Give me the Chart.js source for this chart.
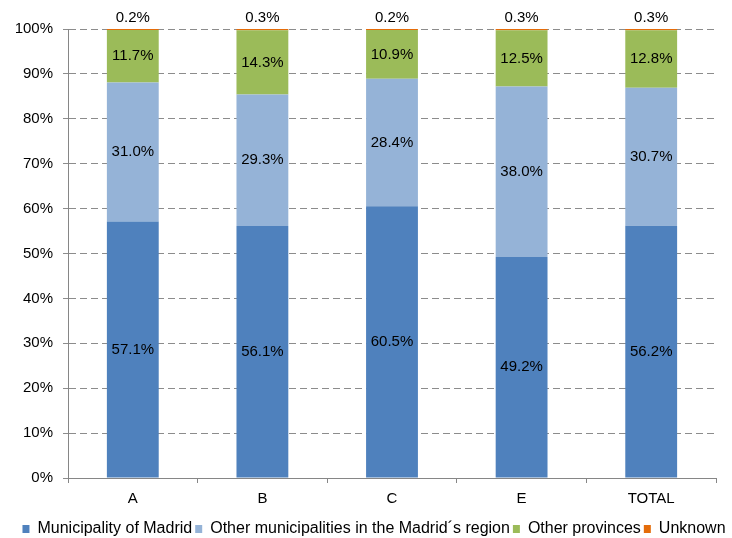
<!DOCTYPE html>
<html>
<head>
<meta charset="utf-8">
<script src="https://cdn.jsdelivr.net/npm/chart.js@4"></script>
<style>
  html, body { margin: 0; padding: 0; background: #fff; }
  #wrap { width: 732px; height: 538px; }
</style>
</head>
<body>
<div id="wrap"><canvas id="myChart" width="732" height="538"></canvas></div>
<script>
// origen de los visitantes por centro (%)
const centros = ['A', 'B', 'C', 'E', 'TOTAL'];
const madrid = [57.1, 56.1, 60.5, 49.2, 56.2];
const region = [31.0, 29.3, 28.4, 38.0, 30.7];
const provincias = [11.7, 14.3, 10.9, 12.5, 12.8];
const desconocido = [0.2, 0.3, 0.2, 0.3, 0.3];
const yTicks = [0, 10, 20, 30, 40, 50, 60, 70, 80, 90, 100];

const fuente = 'Liberation Sans, Arial, sans-serif';

// etiquetas de valor: dentro del segmento, la ultima serie encima de la barra
const etiquetas = {
  id: 'etiquetas',
  afterDatasetsDraw(chart) {
    const ctx = chart.ctx;
    ctx.save();
    ctx.font = '15px ' + fuente;
    ctx.fillStyle = '#000';
    ctx.textAlign = 'center';
    ctx.textBaseline = 'middle';
    chart.data.datasets.forEach((ds, i) => {
      const meta = chart.getDatasetMeta(i);
      meta.data.forEach((bar, j) => {
        const txt = ds.data[j].toFixed(1) + '%';
        if (i == 3) {
          ctx.fillText(txt, bar.x, bar.y - 11);
        } else {
          ctx.fillText(txt, bar.x, (bar.y + bar.base) / 2);
        }
      });
    });
    ctx.restore();
  }
};

new Chart(document.getElementById('myChart'), {
  type: 'bar',
  data: {
    labels: centros,
    datasets: [
      { label: 'Municipality of Madrid', data: madrid, backgroundColor: '#4F81BD' },
      { label: 'Other municipalities in the Madrid´s region', data: region, backgroundColor: '#95B3D7' },
      { label: 'Other provinces', data: provincias, backgroundColor: '#9BBB59' },
      { label: 'Unknown', data: desconocido, backgroundColor: '#E46C0A' }
    ]
  },
  options: {
    responsive: false,
    animation: false,
    layout: { padding: { top: 29, right: 0, left: 16, bottom: -9 } },
    datasets: { bar: { categoryPercentage: 1, barPercentage: 0.4, borderWidth: 0 } },
    plugins: {
      legend: {
        position: 'bottom',
        labels: {
          font: { family: fuente, size: 16, lineHeight: 0.8 },
          color: '#000',
          boxWidth: 7,
          boxHeight: 8,
          padding: 3
        }
      },
      tooltip: { enabled: false }
    },
    scales: {
      x: {
        stacked: true,
        grid: { drawOnChartArea: false, drawTicks: true, tickLength: 5, color: '#868686', offset: true },
        border: { color: '#868686' },
        ticks: { font: { family: fuente, size: 15 }, color: '#000', padding: 7 },
        afterFit(scale) { scale.height = 40; }
      },
      y: {
        stacked: true,
        min: 0,
        max: 100,
        afterBuildTicks(scale) { scale.ticks = yTicks.map(v => ({ value: v })); },
        grid: { color: '#8C8C8C', tickLength: 5, tickBorderDash: [], drawTicks: true },
        // la linea del eje sale continua, solo la cuadricula usa el trazo discontinuo
        border: { color: '#868686', dash: [7, 4] },
        ticks: {
          font: { family: fuente, size: 15 },
          color: '#000',
          padding: 10,
          callback: v => v + '%'
        },
        afterFit(scale) { scale.width = 52; }
      },
      // margen derecho vacio para que la leyenda tenga todo el ancho
      margen: {
        position: 'right',
        grid: { display: false },
        border: { display: false },
        ticks: { display: false },
        afterFit(scale) { scale.width = 16; }
      }
    }
  },
  plugins: [etiquetas]
});
</script>
</body>
</html>
